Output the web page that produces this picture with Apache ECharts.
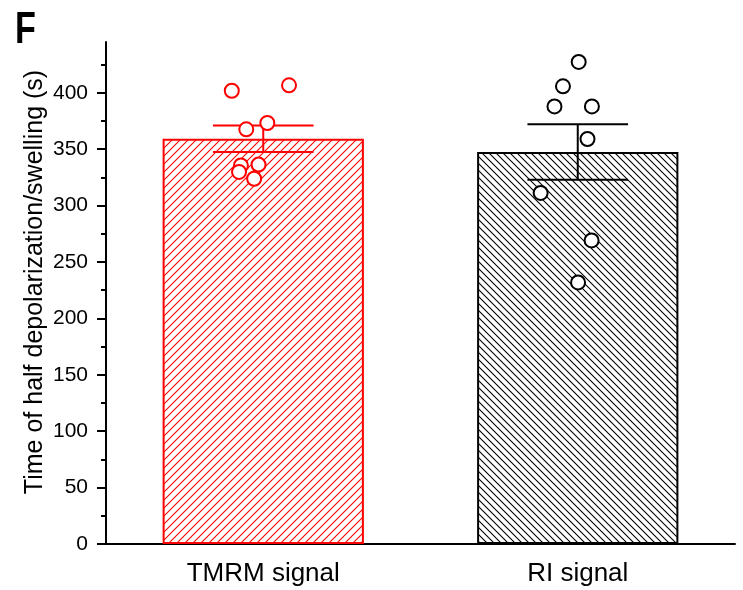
<!DOCTYPE html>
<html><head><meta charset="utf-8">
<script src="https://cdn.jsdelivr.net/npm/echarts@6/dist/echarts.min.js"></script>
<style>html,body{margin:0;padding:0;background:#fff}#c{width:743px;height:590px}</style>
</head><body><div id="c"></div>
<script>
// ---- data ----
const categories = ['TMRM signal', 'RI signal'];
const means = [359.3, 347.5];
const sems = [11.7, 24.6];
const tmrmX = [0.400, 0.582, 0.446, 0.513, 0.429, 0.485, 0.423, 0.471];
const tmrmY = [401.8, 406.6, 367.6, 373.2, 335.6, 336.3, 329.8, 323.8];
const riX = [1.503, 1.453, 1.426, 1.545, 1.531, 1.382, 1.544, 1.501];
const riY = [427.3, 405.7, 387.9, 387.9, 359.0, 311.2, 269.1, 231.9];
const yTickValues = [0, 50, 100, 150, 200, 250, 300, 350, 400];
const seriesColors = ['#ff0000', '#000000'];

function hatch(size, color, dir) {
  const c = document.createElement('canvas');
  c.width = size; c.height = size;
  const g = c.getContext('2d');
  g.fillStyle = '#fff'; g.fillRect(0, 0, size, size);
  g.strokeStyle = color; g.lineWidth = 1.1;
  g.beginPath();
  if (dir > 0) {
    for (let k = -1; k <= 1; k++) { g.moveTo(k * size - 1, size + 1); g.lineTo(k * size + size + 1, -1); }
  } else {
    for (let k = -1; k <= 1; k++) { g.moveTo(k * size - 1, -1); g.lineTo(k * size + size + 1, size + 1); }
  }
  g.stroke();
  return c;
}

const chart = echarts.init(document.getElementById('c'), null, {renderer: 'canvas'});
const font = "'Liberation Sans', Arial, sans-serif";

const option = {
  animation: false,
  backgroundColor: '#fff',
  graphic: [{type: 'text', x: 15, y: 8, scaleX: 0.76, style: {text: 'F', font: "bold 45px " + font, fill: '#000'}}],
  grid: {left: 106, right: 8, top: 42, bottom: 46, containLabel: false},
  xAxis: [{
    type: 'category', data: categories,
    axisLine: {lineStyle: {color: '#000', width: 2}},
    axisTick: {alignWithLabel: true, length: 9, lineStyle: {color: '#000', width: 2}},
    axisLabel: {color: '#000', fontSize: 26, fontFamily: font, margin: 17}
  }, {
    type: 'value', min: 0, max: 2, show: false
  }],
  yAxis: {
    type: 'value', min: 0, max: 445, interval: 50,
    name: 'Time of half depolarization/swelling (s)', nameLocation: 'middle', nameGap: 58,
    nameMoveOverlap: false,
    nameTextStyle: {color: '#000', fontSize: 25, fontFamily: font, padding: [0, 0, 0, 22]},
    axisLine: {show: true, lineStyle: {color: '#000', width: 2}},
    axisTick: {show: true, length: 9, lineStyle: {color: '#000', width: 2}, customValues: yTickValues},
    minorTick: {show: true, splitNumber: 2, length: 5, lineStyle: {color: '#000', width: 2}},
    axisLabel: {color: '#000', fontSize: 21, fontFamily: font, margin: 18, customValues: yTickValues},
    splitLine: {show: false}
  },
  series: [{
    type: 'bar', barWidth: '64%',
    data: means.map((m, i) => ({
      value: m,
      itemStyle: {
        color: {image: hatch(i === 0 ? 8 : 7, seriesColors[i], i === 0 ? 1 : -1), repeat: 'repeat'},
        borderColor: seriesColors[i], borderWidth: 2
      }
    })),
    z: 1
  }, {
    type: 'custom', z: 3,
    data: means.map((m, i) => [i, m + sems[i], m - sems[i]]),
    renderItem: function (params, api) {
      const i = api.value(0);
      const hi = api.coord([i, api.value(1)]);
      const lo = api.coord([i, api.value(2)]);
      const half = api.size([1, 0])[0] * 0.16;
      const st = {stroke: seriesColors[i], lineWidth: 2};
      return {type: 'group', children: [
        {type: 'line', shape: {x1: hi[0], y1: hi[1], x2: lo[0], y2: lo[1]}, style: st},
        {type: 'line', shape: {x1: hi[0] - half, y1: hi[1], x2: hi[0] + half, y2: hi[1]}, style: st},
        {type: 'line', shape: {x1: lo[0] - half, y1: lo[1], x2: lo[0] + half, y2: lo[1]}, style: st}
      ]};
    }
  }, {
    type: 'scatter', xAxisIndex: 1, z: 5, symbol: 'circle', symbolSize: 14,
    itemStyle: {color: '#fff', borderColor: seriesColors[0], borderWidth: 2, opacity: 1},
    data: tmrmX.map((x, i) => [x, tmrmY[i]])
  }, {
    type: 'scatter', xAxisIndex: 1, z: 5, symbol: 'circle', symbolSize: 14,
    itemStyle: {color: '#fff', borderColor: seriesColors[1], borderWidth: 2, opacity: 1},
    data: riX.map((x, i) => [x, riY[i]])
  }]
};
chart.setOption(option);
</script></body></html>
